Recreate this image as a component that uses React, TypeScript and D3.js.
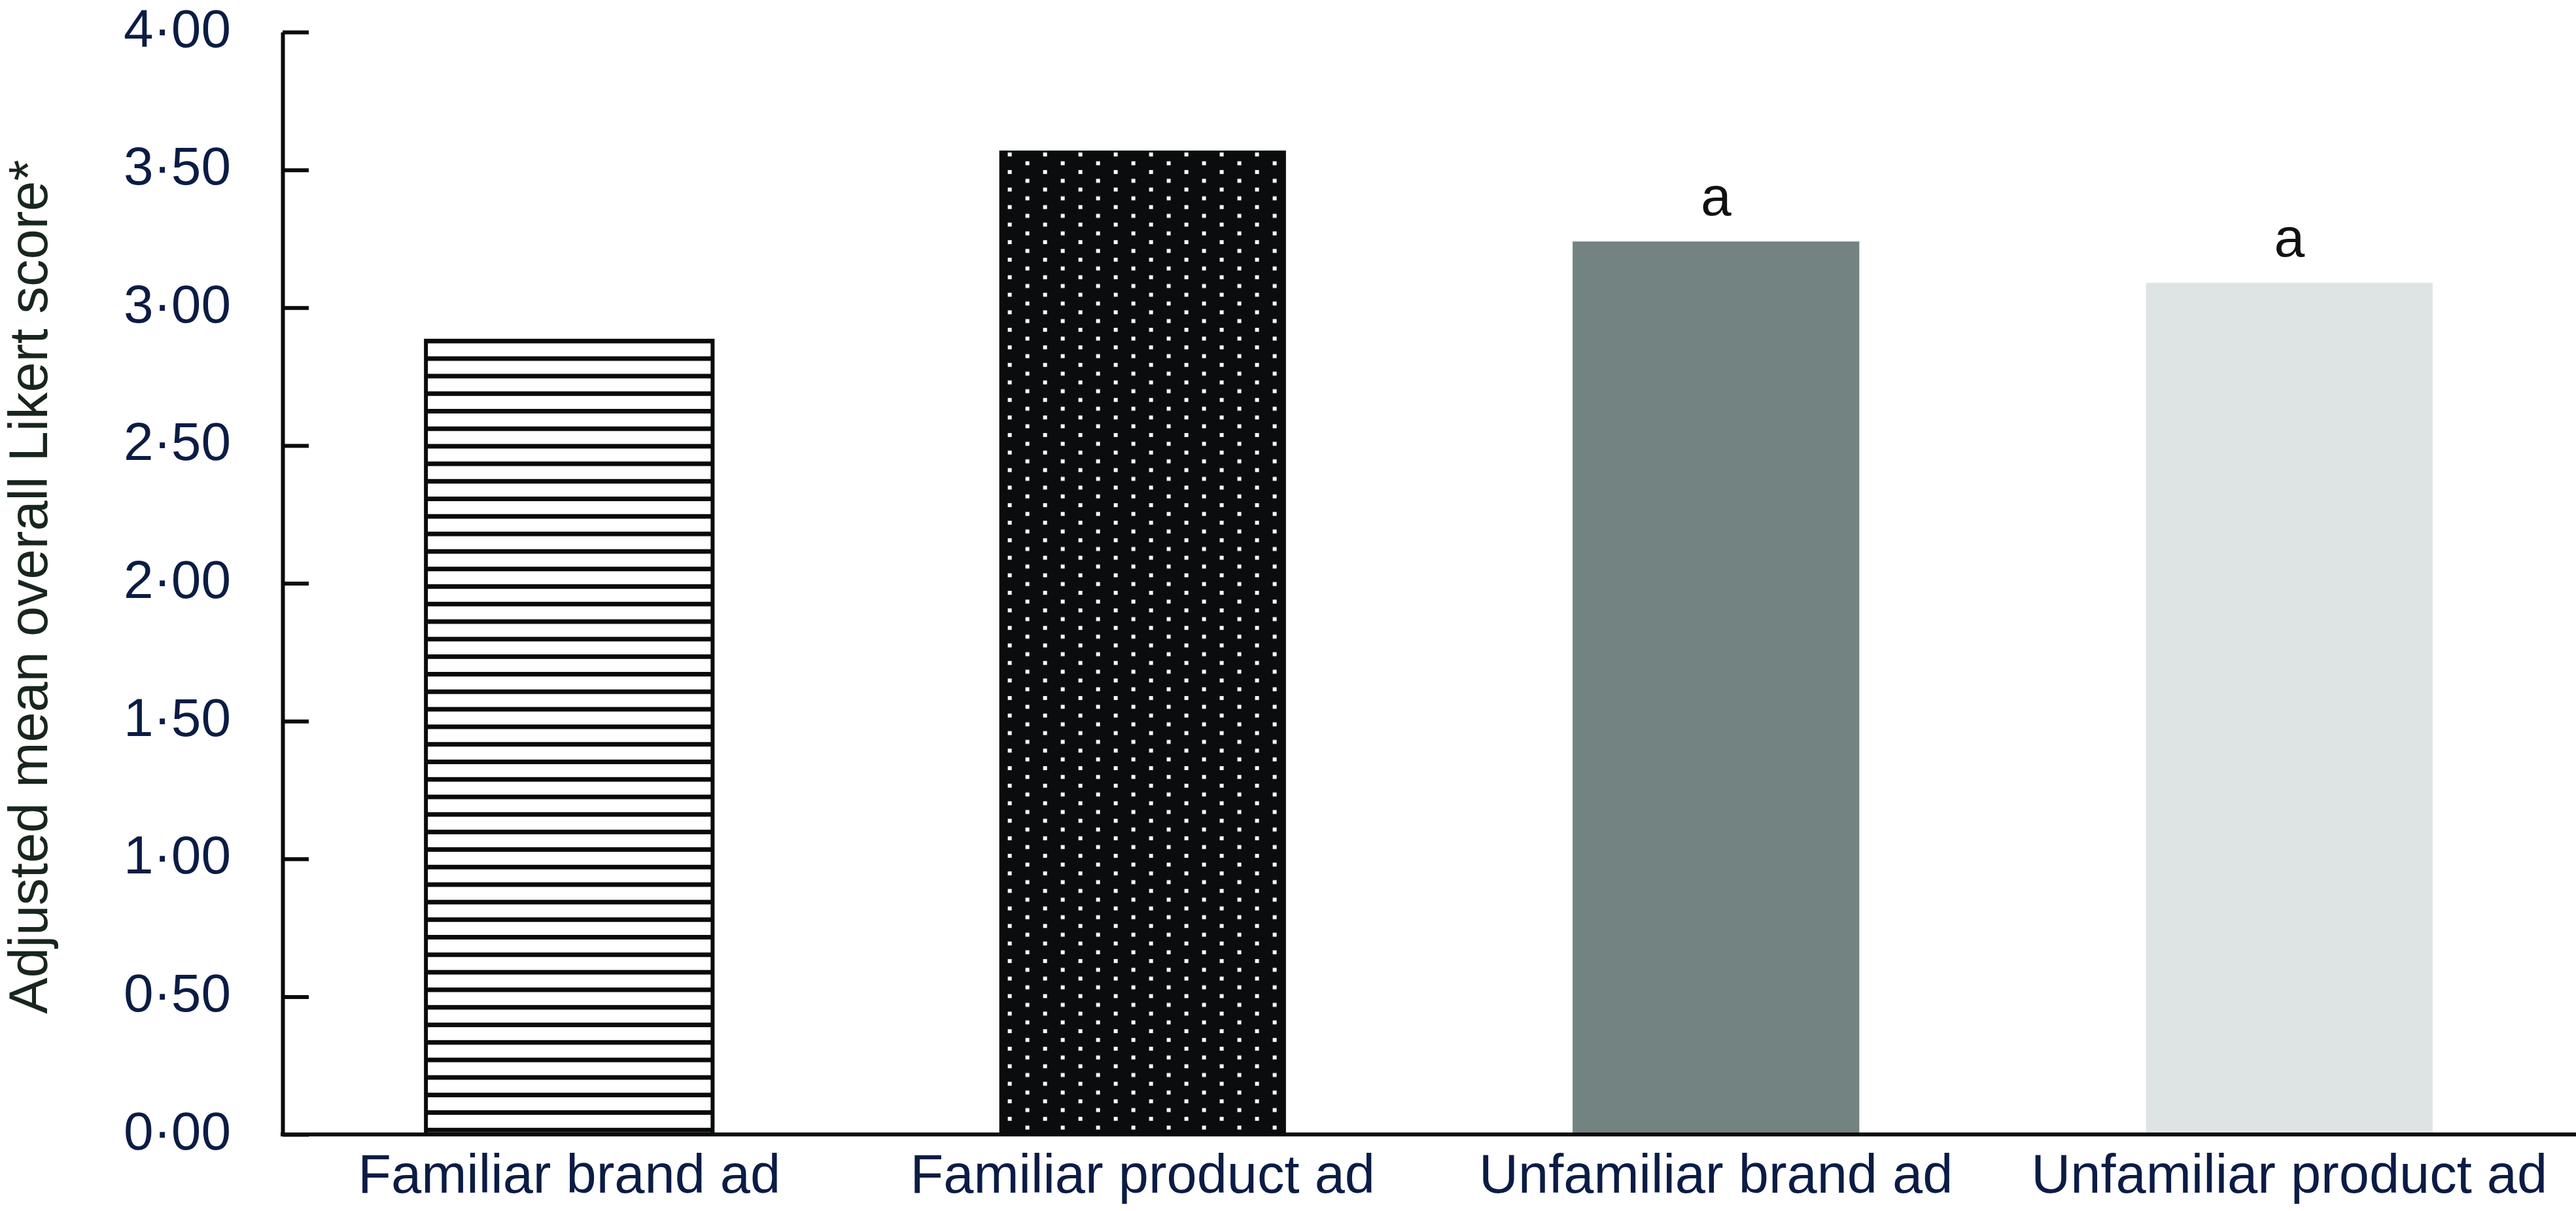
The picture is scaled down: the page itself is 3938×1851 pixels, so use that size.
import * as React from 'react';
import * as d3 from 'd3';

const WIDTH = 3938;
const HEIGHT = 1851;

const categories = ['Familiar brand ad', 'Familiar product ad', 'Unfamiliar brand ad', 'Unfamiliar product ad'];
const values = [2.88, 3.57, 3.24, 3.09];
const letters = ['', '', 'a', 'a'];
const yTicks = [0, 0.5, 1, 1.5, 2, 2.5, 3, 3.5, 4];
const fills = ['url(#hlines)', 'url(#dots)', '#738381', '#dee4e3'];

const margin = { top: 49, right: 0, bottom: 117, left: 432 };
const FONT = '"Liberation Sans", Arial, Helvetica, sans-serif';
const NAVY = '#0b1c45';
const INK = '#0a0c0c';

export default function App() {
  const ref = React.useRef<SVGSVGElement>(null);

  React.useEffect(() => {
    const svg = d3.select(ref.current);
    svg.selectAll('*').remove();

    const x = d3
      .scaleBand()
      .domain(categories)
      .range([margin.left, WIDTH - margin.right])
      .paddingInner(0.5)
      .paddingOuter(0.25);

    const y = d3
      .scaleLinear()
      .domain([0, 4])
      .range([HEIGHT - margin.bottom, margin.top]);

    const data = categories.map((c, i) => ({ c, v: values[i], fill: fills[i], letter: letters[i] }));

    // patterns, anchored at the bar corners
    const defs = svg.append('defs');
    const lines = defs
      .append('pattern')
      .attr('id', 'hlines')
      .attr('patternUnits', 'userSpaceOnUse')
      .attr('x', x(categories[0]))
      .attr('y', y(values[0]) - 3)
      .attr('width', 20)
      .attr('height', 26.8);
    lines.append('rect').attr('width', 20).attr('height', 26.8).attr('fill', '#fff');
    lines.append('rect').attr('width', 20).attr('height', 7).attr('fill', INK);

    const dots = defs
      .append('pattern')
      .attr('id', 'dots')
      .attr('patternUnits', 'userSpaceOnUse')
      .attr('x', x(categories[1]))
      .attr('y', y(values[1]))
      .attr('width', 54)
      .attr('height', 26.8);
    dots.append('rect').attr('width', 54).attr('height', 26.8).attr('fill', '#0a0c0d');
    dots.append('rect').attr('x', 13).attr('y', 3).attr('width', 6).attr('height', 6).attr('fill', '#fff');
    dots.append('rect').attr('x', 40).attr('y', 16.4).attr('width', 6).attr('height', 6).attr('fill', '#fff');

    // bars
    svg
      .append('g')
      .selectAll('rect')
      .data(data)
      .join('rect')
      .attr('x', d => x(d.c))
      .attr('y', d => y(d.v))
      .attr('width', x.bandwidth())
      .attr('height', d => y(0) - y(d.v))
      .attr('fill', d => d.fill)
      .attr('stroke', (d, i) => (i === 0 ? INK : 'none'))
      .attr('stroke-width', 6);

    // significance letters
    svg
      .append('g')
      .selectAll('text')
      .data(data.filter(d => d.letter))
      .join('text')
      .attr('x', d => x(d.c) + x.bandwidth() / 2)
      .attr('y', d => y(d.v) - 40)
      .attr('text-anchor', 'middle')
      .attr('font-family', FONT)
      .attr('font-size', 84)
      .attr('fill', '#111')
      .text(d => d.letter);

    // y axis, ticks pointing inwards
    const yAxis = svg
      .append('g')
      .attr('transform', `translate(${margin.left},0)`)
      .call(
        d3
          .axisLeft(y)
          .tickValues(yTicks)
          .tickSizeInner(-40)
          .tickSizeOuter(0)
          .tickPadding(79)
          .tickFormat(d => d3.format('.2f')(d as number).replace('.', '\u00b7')),
      );
    yAxis.select('.domain').attr('stroke', INK).attr('stroke-width', 6);
    yAxis.selectAll('.tick line').attr('stroke', INK).attr('stroke-width', 6);
    yAxis
      .selectAll('.tick text')
      .attr('font-family', FONT)
      .attr('font-size', 82)
      .attr('fill', NAVY)
      .attr('dy', null)
      .attr('y', 22);

    // x axis
    const xAxis = svg
      .append('g')
      .attr('transform', `translate(0,${y(0)})`)
      .call(d3.axisBottom(x).tickSize(0).tickSizeOuter(0));
    xAxis
      .select('.domain')
      .attr('d', `M${margin.left - 3},0H${WIDTH}`)
      .attr('stroke', INK)
      .attr('stroke-width', 6);
    xAxis
      .selectAll('.tick text')
      .attr('font-family', FONT)
      .attr('font-size', 83)
      .attr('fill', NAVY)
      .attr('dy', null)
      .attr('y', 89);

    // y title
    svg
      .append('text')
      .attr('transform', `translate(72,897) rotate(-90)`)
      .attr('text-anchor', 'middle')
      .attr('font-family', FONT)
      .attr('font-size', 83)
      .attr('fill', '#18261e')
      .text('Adjusted mean overall Likert score*');
  }, []);

  return (
    <div style={{ position: 'absolute', left: 0, top: 0 }}>
      <svg ref={ref} width={WIDTH} height={HEIGHT} style={{ display: 'block', background: '#fff' }} />
    </div>
  );
}
